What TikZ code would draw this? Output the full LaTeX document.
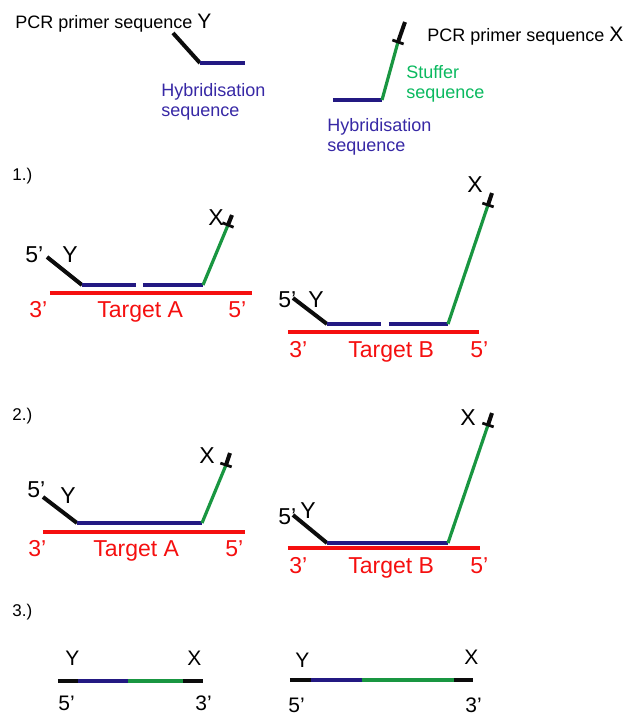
\documentclass[tikz,border=0pt]{standalone}
\usepackage{fontspec}
\setmainfont{Liberation Sans}
\usepackage{xcolor}
\usepackage{tikz}
\usetikzlibrary{calc}
\definecolor{primerblack}{RGB}{12,12,12}
\definecolor{hybnavy}{RGB}{35,25,130}
\definecolor{hybtext}{RGB}{55,40,165}
\definecolor{stuffgreen}{RGB}{25,150,65}
\definecolor{stufftext}{RGB}{10,185,95}
\definecolor{targetred}{RGB}{245,15,15}
\tikzset{
  primer/.style={line width=2pt,draw=primerblack},
  hyb/.style={line width=2pt,draw=hybnavy},
  stuffer/.style={line width=1.6pt,draw=stuffgreen},
  target/.style={line width=2.2pt,draw=targetred},
  tick/.style={line width=1.4pt,draw=primerblack},
  txt/.style={inner sep=0pt,font=\fontsize{9}{10}\selectfont,align=left},
  endlbl/.style={inner sep=0pt,anchor=base west,font=\fontsize{11.5}{14}\selectfont},
  tgtlbl/.style={endlbl,text=targetred},
  prodlbl/.style={inner sep=0pt,anchor=base west,font=\fontsize{10.5}{12}\selectfont},
  steplbl/.style={inner sep=0pt,anchor=base west,font=\fontsize{8.5}{10}\selectfont},
}

\begin{document}
\begin{tikzpicture}[x=0.5pt,y=-0.5pt]
  \useasboundingbox (0,0) rectangle (628,720);

  % key
  \coordinate (ky0) at (173,33);
  \coordinate (ky1) at (200,63);
  \coordinate (ky2) at (245,63);
  \coordinate (kx0) at (333,100);
  \coordinate (kx1) at (382,100);
  \coordinate (kx2) at (398,42);
  \coordinate (kx3) at (405,22);
  \draw[primer] (ky0) -- (ky1);
  \draw[hyb] (ky1) -- (ky2);
  \draw[hyb] (kx0) -- (kx1);
  \draw[stuffer] (kx1) -- (kx2);
  \draw[primer] (kx2) -- (kx3);
  \draw[tick] ($(kx2)!3pt!90:(kx3)$) -- ($(kx2)!3pt!-90:(kx3)$);
  \node[txt,anchor=base west] (pcry) at (15,28) {PCR primer sequence {\fontsize{10.5}{12}\selectfont Y}};
  \node[txt,anchor=base west] (pcrx) at (427,41) {PCR primer sequence {\fontsize{10.5}{12}\selectfont X}};
  \node[txt,anchor=north west,text=hybtext] (hyby) at (161,83) {Hybridisation\\sequence};
  \node[txt,anchor=north west,text=hybtext] (hybx) at (327,118) {Hybridisation\\sequence};
  \node[txt,anchor=north west,text=stufftext] (stuf) at (406,65) {Stuffer\\sequence};

  % step 1
  \node[steplbl] (s1) at (12,180) {1.)};
  \coordinate (a1l) at (50,293);
  \coordinate (a1r) at (252,293);
  \coordinate (a1y) at (47,257);
  \coordinate (a1h) at (82,285);
  \coordinate (a1g) at (136,285);
  \coordinate (a1k) at (143,285);
  \coordinate (a1s) at (203,285);
  \coordinate (a1x) at (228,225);
  \coordinate (a1e) at (232,215);
  \draw[target] (a1l) -- (a1r);
  \draw[primer] (a1y) -- (a1h);
  \draw[hyb] (a1h) -- (a1g);
  \draw[hyb] (a1k) -- (a1s);
  \draw[stuffer] (a1s) -- (a1x);
  \draw[primer] (a1x) -- (a1e);
  \draw[tick] ($(a1x)!3pt!90:(a1e)$) -- ($(a1x)!3pt!-90:(a1e)$);
  \node[endlbl] (a1five) at (25,262) {5'};
  \node[endlbl] (a1ylbl) at (62,262) {Y};
  \node[endlbl] (a1xlbl) at (208,225) {X};
  \node[tgtlbl] (a1three) at (29,317) {3'};
  \node[tgtlbl] (a1name) at (97,317) {Target A};
  \node[tgtlbl] (a1fiver) at (228,317) {5'};

  \coordinate (b1l) at (288,332);
  \coordinate (b1r) at (479,332);
  \coordinate (b1y) at (293,298);
  \coordinate (b1h) at (327,324);
  \coordinate (b1g) at (381,324);
  \coordinate (b1k) at (389,324);
  \coordinate (b1s) at (448,324);
  \coordinate (b1x) at (488,205);
  \coordinate (b1e) at (492,193);
  \draw[target] (b1l) -- (b1r);
  \draw[primer] (b1y) -- (b1h);
  \draw[hyb] (b1h) -- (b1g);
  \draw[hyb] (b1k) -- (b1s);
  \draw[stuffer] (b1s) -- (b1x);
  \draw[primer] (b1x) -- (b1e);
  \draw[tick] ($(b1x)!3pt!90:(b1e)$) -- ($(b1x)!3pt!-90:(b1e)$);
  \node[endlbl] (b1five) at (278,307) {5'};
  \node[endlbl] (b1ylbl) at (308,307) {Y};
  \node[endlbl] (b1xlbl) at (467,192) {X};
  \node[tgtlbl] (b1three) at (289,357) {3'};
  \node[tgtlbl] (b1name) at (348,357) {Target B};
  \node[tgtlbl] (b1fiver) at (470,357) {5'};

  % step 2
  \node[steplbl] (s2) at (12,420) {2.)};
  \coordinate (a2l) at (43,532);
  \coordinate (a2r) at (245,532);
  \coordinate (a2y) at (43,497);
  \coordinate (a2h) at (77,523);
  \coordinate (a2s) at (202,523);
  \coordinate (a2x) at (226,465);
  \coordinate (a2e) at (230,453);
  \draw[target] (a2l) -- (a2r);
  \draw[primer] (a2y) -- (a2h);
  \draw[hyb] (a2h) -- (a2s);
  \draw[stuffer] (a2s) -- (a2x);
  \draw[primer] (a2x) -- (a2e);
  \draw[tick] ($(a2x)!3pt!90:(a2e)$) -- ($(a2x)!3pt!-90:(a2e)$);
  \node[endlbl] (a2five) at (27,497) {5'};
  \node[endlbl] (a2ylbl) at (60,503) {Y};
  \node[endlbl] (a2xlbl) at (199,463) {X};
  \node[tgtlbl] (a2three) at (28,556) {3'};
  \node[tgtlbl] (a2name) at (93,556) {Target A};
  \node[tgtlbl] (a2fiver) at (225,556) {5'};

  \coordinate (b2l) at (288,548);
  \coordinate (b2r) at (480,548);
  \coordinate (b2y) at (293,515);
  \coordinate (b2h) at (327,543);
  \coordinate (b2s) at (448,543);
  \coordinate (b2x) at (488,425);
  \coordinate (b2e) at (492,413);
  \draw[target] (b2l) -- (b2r);
  \draw[primer] (b2y) -- (b2h);
  \draw[hyb] (b2h) -- (b2s);
  \draw[stuffer] (b2s) -- (b2x);
  \draw[primer] (b2x) -- (b2e);
  \draw[tick] ($(b2x)!3pt!90:(b2e)$) -- ($(b2x)!3pt!-90:(b2e)$);
  \node[endlbl] (b2five) at (278,524) {5'};
  \node[endlbl] (b2ylbl) at (300,518) {Y};
  \node[endlbl] (b2xlbl) at (460,425) {X};
  \node[tgtlbl] (b2three) at (289,573) {3'};
  \node[tgtlbl] (b2name) at (348,573) {Target B};
  \node[tgtlbl] (b2fiver) at (470,573) {5'};

  % step 3
  \node[steplbl] (s3) at (12,616) {3.)};
  \coordinate (a3p) at (58,681);
  \coordinate (a3h) at (78,681);
  \coordinate (a3s) at (128,681);
  \coordinate (a3x) at (183,681);
  \coordinate (a3e) at (203,681);
  \draw[primer] (a3p) -- (a3h);
  \draw[hyb] (a3h) -- (a3s);
  \draw[stuffer,line width=2pt] (a3s) -- (a3x);
  \draw[primer] (a3x) -- (a3e);
  \node[prodlbl] (a3ylbl) at (65,665) {Y};
  \node[prodlbl] (a3xlbl) at (187,665) {X};
  \node[prodlbl] (a3five) at (58,710) {5'};
  \node[prodlbl] (a3three) at (195,710) {3'};

  \coordinate (b3p) at (290,680);
  \coordinate (b3h) at (311,680);
  \coordinate (b3s) at (362,680);
  \coordinate (b3x) at (454,680);
  \coordinate (b3e) at (473,680);
  \draw[primer] (b3p) -- (b3h);
  \draw[hyb] (b3h) -- (b3s);
  \draw[stuffer,line width=2pt] (b3s) -- (b3x);
  \draw[primer] (b3x) -- (b3e);
  \node[prodlbl] (b3ylbl) at (295,667) {Y};
  \node[prodlbl] (b3xlbl) at (464,664) {X};
  \node[prodlbl] (b3five) at (288,712) {5'};
  \node[prodlbl] (b3three) at (465,712) {3'};
\end{tikzpicture}
\end{document}
